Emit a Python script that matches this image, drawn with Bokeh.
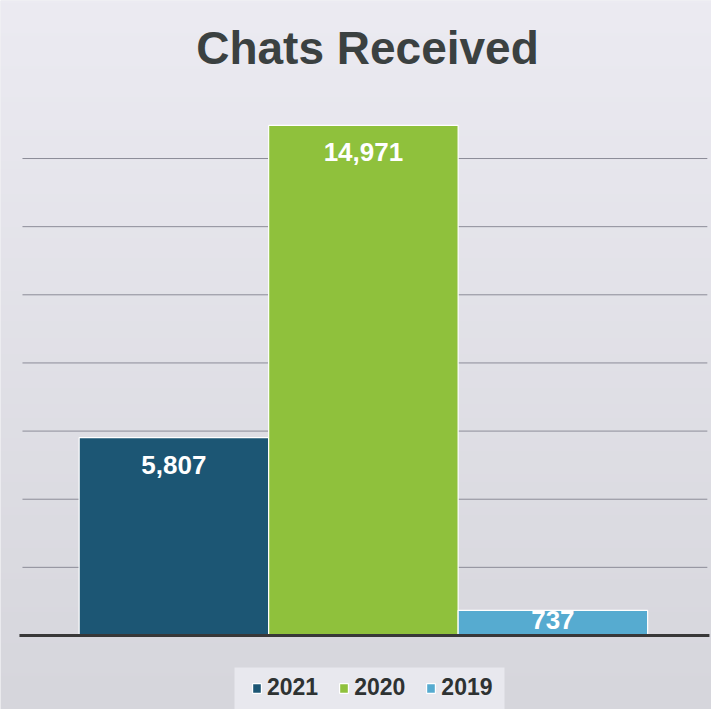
import numpy as np
from bokeh.plotting import figure
from bokeh.models import (ColumnDataSource, Range1d, Label, Legend, LegendItem,
                          BoxAnnotation)
from bokeh.core.properties import value
from bokeh.embed import file_html
from bokeh.resources import INLINE

# ---- data ----
years = ["2021", "2020", "2019"]
chats = [5807, 14971, 737]
labels = ["5,807", "14,971", "737"]
colors = ["#1c5674", "#8fc13c", "#56abd0"]
grid_ticks = [2000, 4000, 6000, 8000, 10000, 12000, 14000]
title_text = "Chats Received"

FONT = "Liberation Sans"
W, H = 711, 709
px_per_unit = 0.03407  # vertical scale used for the layout

y_start, y_end = -2172, 18638
x_start, x_end = -0.915, 2.837

p = figure(width=W, height=H, output_backend="svg", toolbar_location=None,
           x_range=Range1d(x_start, x_end), y_range=Range1d(y_start, y_end),
           min_border_left=0, min_border_right=0, min_border_top=0,
           min_border_bottom=0)
p.xaxis.visible = False
p.yaxis.visible = False
p.xgrid.visible = False
p.ygrid.visible = False
p.outline_line_color = None
p.border_fill_color = "#e3e3e9"
p.background_fill_color = "#e3e3e9"

# soft vertical gradient backdrop (scan look)
n = 256
top = np.array([0xec, 0xeb, 0xf2], dtype=float)
bot = np.array([0xd6, 0xd6, 0xdc], dtype=float)
t = np.linspace(0, 1, n)[:, None]
rgb = (bot * (1 - t) + top * t).astype(np.uint32)
img = (255 << 24) | (rgb[:, 2] << 16) | (rgb[:, 1] << 8) | rgb[:, 0]
img = img.reshape(n, 1)
p.image_rgba(image=[img], x=x_start, y=y_start, dw=x_end - x_start,
             dh=y_end - y_start, level="image")

# horizontal gridlines (plot-area width only)
p.segment(x0=-0.799, x1=2.815, y0=grid_ticks, y1=grid_ticks,
          line_color="#8c8c98", line_width=1, level="underlay")

xs = list(range(len(years)))
offsets = [min(27, v * px_per_unit - 15) for v in chats]
src = ColumnDataSource(dict(x=xs, year=years, chats=chats, label=labels,
                            color=colors, off=offsets))

renderers = []
for i in range(len(years)):
    r = p.vbar(x=[xs[i]], top=[chats[i]], width=1.0, fill_color=colors[i],
               line_color="white", line_width=1.2)
    renderers.append(r)

# category axis baseline
p.segment(x0=[-0.815], x1=[2.826], y0=[0], y1=[0], line_color="#383838",
          line_width=3)

p.text(x="x", y="chats", text="label", source=src, y_offset="off",
       text_color="white", text_font=value(FONT), text_font_style="bold",
       text_font_size="26px", text_align="center", text_baseline="middle")

p.add_layout(Label(x=367, y=662, x_units="screen", y_units="screen",
                   text=title_text, text_font=FONT, text_font_style="bold",
                   text_font_size="46px", text_color="#3b4141",
                   text_align="center", text_baseline="middle"))

# legend backdrop panel
p.add_layout(BoxAnnotation(left=234, right=504, bottom=0, top=42,
                           left_units="screen", right_units="screen",
                           bottom_units="screen", top_units="screen",
                           fill_color="#e8e8ee", fill_alpha=1.0,
                           line_color=None, level="underlay"))

legend = Legend(items=[LegendItem(label=years[i], renderers=[renderers[i]])
                       for i in range(len(years))],
                orientation="horizontal", location=(251, 8),
                glyph_width=11, glyph_height=12, label_standoff=5, spacing=20,
                padding=0, margin=0,
                label_text_font=FONT, label_text_font_style="bold",
                label_text_font_size="23px", label_text_color="#2e3232",
                background_fill_alpha=0.0, border_line_color=None)
p.add_layout(legend)

open("out.html", "w").write(file_html(p, INLINE))
